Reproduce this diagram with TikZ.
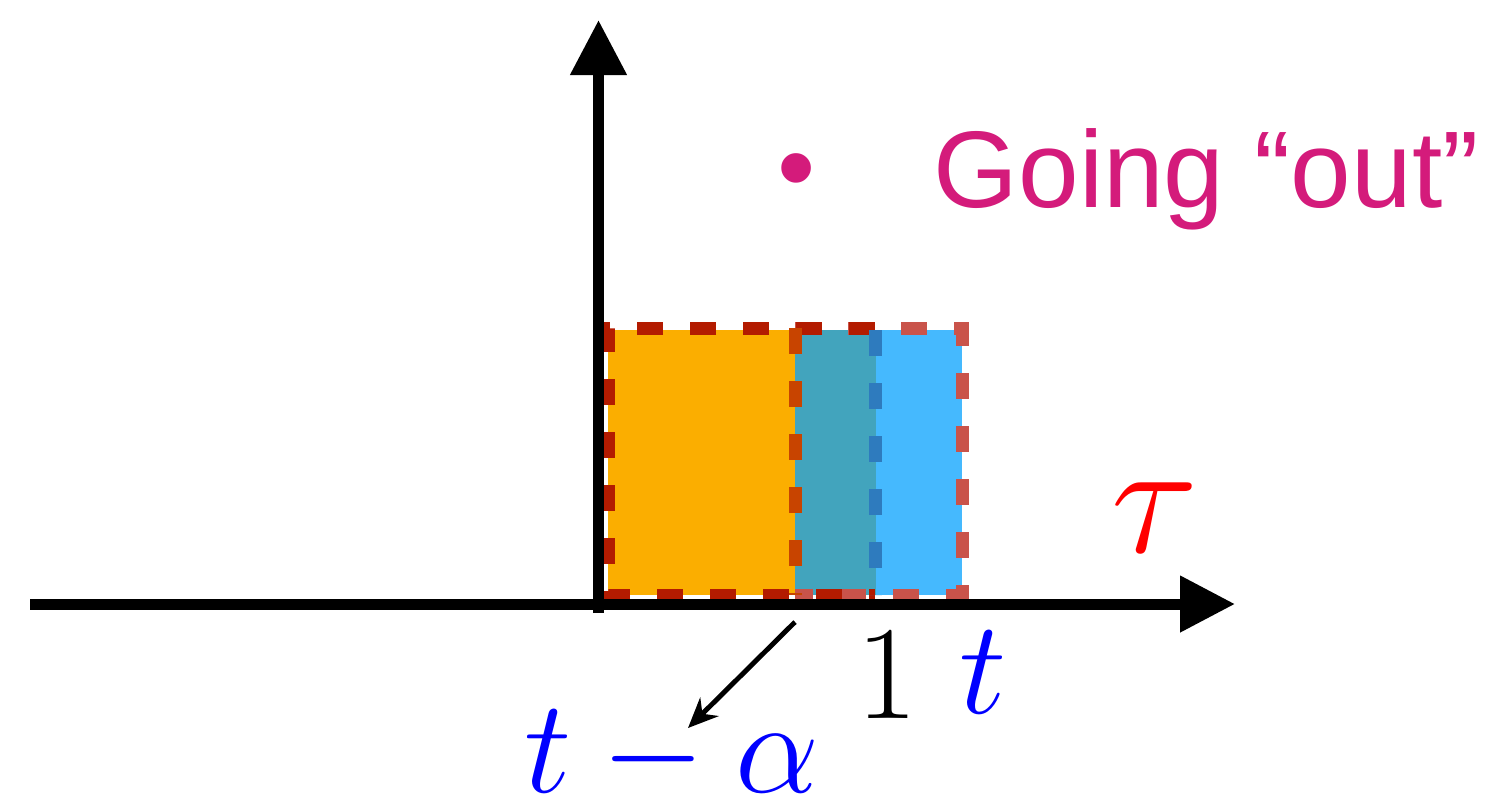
\RequirePackage{fix-cm}
\documentclass[tikz,border=0pt]{standalone}
\usepackage{fontspec}
\newfontfamily\gofont{Liberation Sans}
\definecolor{boxorange}{HTML}{FBAE00}
\definecolor{boxteal}{HTML}{42A4BD}
\definecolor{boxblue}{HTML}{45B9FE}
\definecolor{darkred}{HTML}{B31B00}
\definecolor{lightred}{HTML}{C9534A}
\definecolor{midred}{HTML}{C84400}
\definecolor{dashblue}{HTML}{2E7BBE}
\definecolor{gomagenta}{HTML}{D41B7B}
\usetikzlibrary{arrows.meta, positioning}

\begin{document}
\begin{tikzpicture}[
  axis/.style={line width=0.11cm, -{Triangle[length=0.55cm, width=0.54cm]}},
  edge/.style={line width=0.13cm, dash pattern=on 0.26cm off 0.27cm},
  lab/.style={inner sep=0pt, anchor=base, font=\fontsize{38}{40}\selectfont}
]
\useasboundingbox (0,0) rectangle (14.96,8.04);

% filled boxes
\fill[boxorange] (6.08,2.09) rectangle (7.95,4.74);
\fill[boxteal]   (7.95,2.09) rectangle (8.76,4.74);
\fill[boxblue]   (8.76,2.09) rectangle (9.62,4.74);

% dashed outlines
\draw[edge, lightred] (7.95,4.76) -- (9.62,4.76) -- (9.62,2.09) -- (7.95,2.09);
\draw[edge, darkred] (8.75,4.76) -- (6.08,4.76) -- (6.08,2.09) -- (8.75,2.09);
\draw[edge, midred] (7.95,4.76) -- (7.95,2.09);
\draw[edge, dashblue] (8.75,4.74) -- (8.75,2.09);

% axes
\coordinate (xstart) at (0.30,2.00);
\coordinate (xend) at (12.35,2.00);
\coordinate (ystart) at (5.985,1.91);
\coordinate (yend) at (5.985,7.84);
\draw[axis] (xstart) -- (xend);
\draw[axis] (ystart) -- (yend);

% labels
\node[lab, text=red, font=\fontsize{46}{48}\selectfont] (tau) at (11.55,2.52) {$\tau$};
\node[lab] (one) at (8.87,0.86) {$1$};
\node[lab, text=blue] (tlab) at (9.83,0.91) {$t$};
\node[lab, text=blue] (tminus) at (6.72,0.12) {$t-\alpha$};

\node[inner sep=0pt, text=gomagenta, font=\gofont\fontsize{31}{33}\selectfont] (bullet) at (7.97,6.25) {\textbullet};
\node[inner sep=0pt, anchor=base west, text=gomagenta, font=\gofont\fontsize{31}{33}\selectfont] (going) at (9.33,5.97) {Going “out”};

% arrow to t - alpha
\coordinate (shift) at (7.95,1.82);
\coordinate (shifttip) at (6.88,0.76);
\draw[line width=1.4pt, -{Stealth[length=0.3cm, width=0.26cm]}] (shift) -- (shifttip);
\end{tikzpicture}
\end{document}
